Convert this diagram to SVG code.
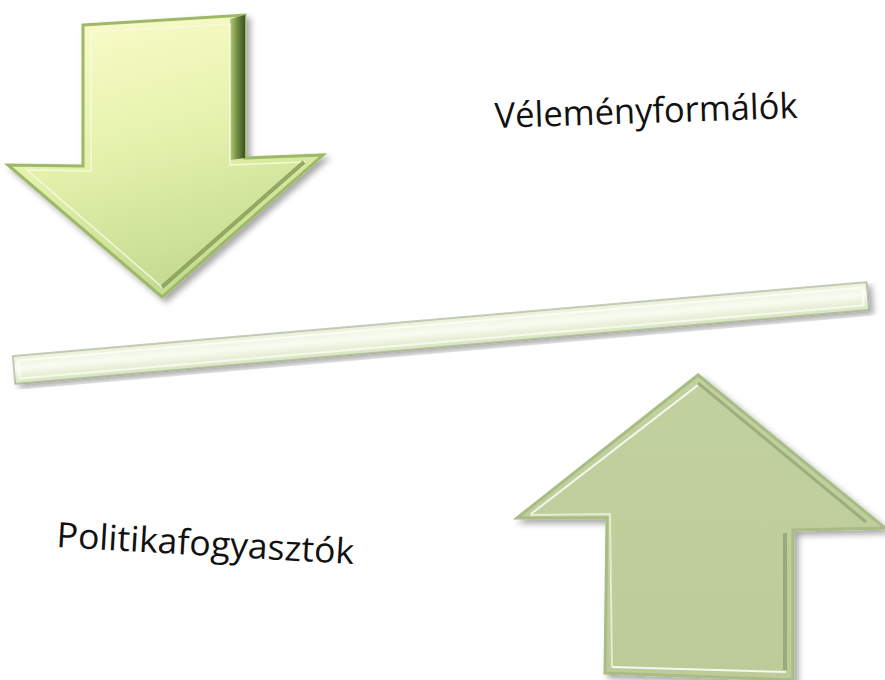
<svg xmlns="http://www.w3.org/2000/svg" width="885" height="680" viewBox="0 0 885 680">
  <style>
    .lbl { font-family: "Open Sans", "Noto Sans", "Liberation Sans", sans-serif; font-size: 35px; fill: #111111; }
  </style>
  <defs>
    <linearGradient id="gDown" x1="0" y1="0" x2="0.3" y2="1">
      <stop offset="0" stop-color="#fdfccd"/>
      <stop offset="0.5" stop-color="#e6f3ae"/>
      <stop offset="1" stop-color="#c6dc92"/>
    </linearGradient>
    <linearGradient id="gSide" x1="0" y1="0" x2="1" y2="0">
      <stop offset="0" stop-color="#b4cc80"/>
      <stop offset="0.5" stop-color="#6d8a3e"/>
      <stop offset="1" stop-color="#3f5124"/>
    </linearGradient>
    <linearGradient id="gUp" x1="0" y1="0" x2="0" y2="1">
      <stop offset="0" stop-color="#c2d29f"/>
      <stop offset="1" stop-color="#bccb98"/>
    </linearGradient>
    <linearGradient id="gBar" x1="0" y1="0" x2="0" y2="1">
      <stop offset="0" stop-color="#e9f1d8"/>
      <stop offset="0.45" stop-color="#f9fcf2"/>
      <stop offset="1" stop-color="#d6e3bb"/>
    </linearGradient>
    <filter id="shadow" x="-10%" y="-10%" width="130%" height="130%">
      <feGaussianBlur in="SourceAlpha" stdDeviation="3"/>
      <feOffset dx="4" dy="4" result="b"/>
      <feComponentTransfer><feFuncA type="linear" slope="0.35"/></feComponentTransfer>
      <feMerge><feMergeNode/><feMergeNode in="SourceGraphic"/></feMerge>
    </filter>
  </defs>
  <rect width="885" height="680" fill="#ffffff"/>

  <g id="arrow-down" filter="url(#shadow)">
    <polygon points="83,25 245,15 245,158 323,155 162,297 8,165 83,166" fill="url(#gDown)" stroke="#9db866" stroke-width="3" stroke-linejoin="miter"/>
    <polygon points="230,19 245,15 245,158 230,160" fill="url(#gSide)"/>
    <polygon points="91,32 230,24 230,165 304,162 162,287 27,170 91,171" fill="none" stroke="#f6fbe0" stroke-width="1.5" opacity="0.9"/>
    <polyline points="304,162 162,287" fill="none" stroke="#6f8a3e" stroke-width="4" opacity="0.7"/>
  </g>

  <g id="bar" filter="url(#shadow)" transform="translate(14,370) rotate(-4.95)">
    <rect x="0" y="-14" width="857" height="28" fill="url(#gBar)" stroke="#8f9c80" stroke-width="1"/>
    <rect x="5" y="-9" width="847" height="18" fill="none" stroke="#ffffff" stroke-width="1.5" opacity="0.9"/>
  </g>

  <g id="arrow-up" filter="url(#shadow)">
    <polygon points="698,375 885,528 793,530 793,680 605,673 607,518 517,518" fill="url(#gUp)" stroke="#a8bc84" stroke-width="3" stroke-linejoin="miter"/>
    <polyline points="531,514 698,385" fill="none" stroke="#ffffff" stroke-width="2" opacity="0.85"/>
    <polyline points="698,383 866,522" fill="none" stroke="#8fa070" stroke-width="3" opacity="0.7"/>
    <polyline points="785,533 785,670" fill="none" stroke="#8c9a78" stroke-width="4" opacity="0.7"/>
    <polyline points="612,667 786,672" fill="none" stroke="#ffffff" stroke-width="2" opacity="0.85"/>
    <polyline points="530,515 610,514 612,667" fill="none" stroke="#e8f0d6" stroke-width="2" opacity="0.9"/>
  </g>

  <g id="label-top">
    <text class="lbl" x="495" y="128" textLength="303" lengthAdjust="spacingAndGlyphs" transform="rotate(-1.9 495 128)">Véleményformálók</text>
  </g>
  <g id="label-bottom">
    <text class="lbl" x="56" y="547" textLength="298" lengthAdjust="spacingAndGlyphs" transform="rotate(3.3 56 547)">Politikafogyasztók</text>
  </g>
</svg>
